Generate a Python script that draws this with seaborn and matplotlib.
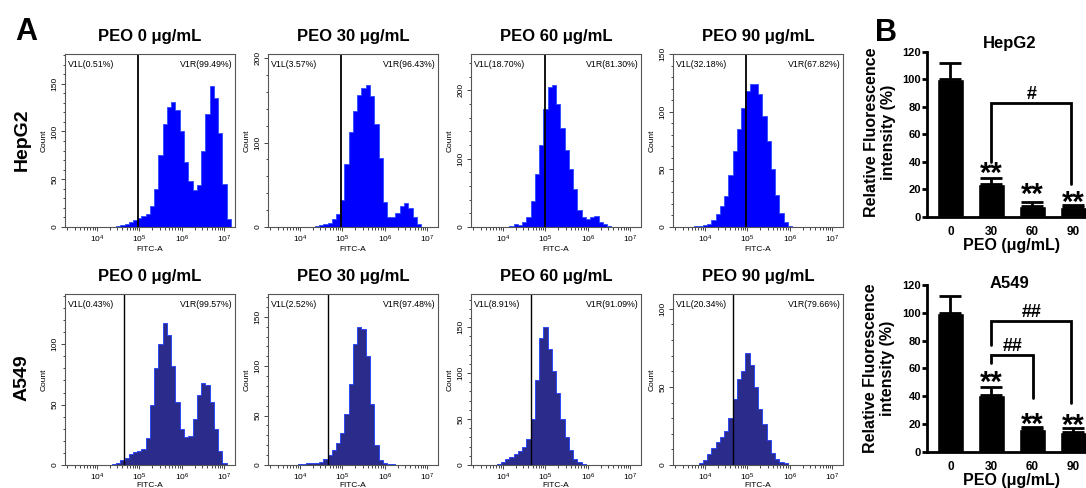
import numpy as np
import matplotlib
matplotlib.use("Agg")
import matplotlib.pyplot as plt
import seaborn as sns
from matplotlib.ticker import AutoMinorLocator, MultipleLocator, LogLocator, NullFormatter

W, H = 1086, 488

# ---- panel A : FITC-A histograms (log10 bin centres, 0.1 decade wide) ----
bin_log = [3.3, 3.4, 3.5, 3.6, 3.7, 3.8, 3.9, 4.0, 4.1, 4.2,
           4.3, 4.4, 4.5, 4.6, 4.7, 4.8, 4.9, 5.0, 5.1, 5.2,
           5.3, 5.4, 5.5, 5.6, 5.7, 5.8, 5.9, 6.0, 6.1, 6.2,
           6.3, 6.4, 6.5, 6.6, 6.7, 6.8, 6.9, 7.0, 7.1, 7.2]

hepg2_0 = [0] * 12 + [1, 2, 3, 5, 7, 9, 11, 14, 22, 40, 75, 108, 126, 131, 122, 100,
                      68, 48, 39, 44, 80, 118, 148, 135, 98, 45, 8, 0]
hepg2_30 = [0] * 11 + [1, 2, 3, 5, 9, 15, 32, 75, 112, 138, 157, 165, 168, 155, 122,
                       82, 30, 12, 12, 17, 25, 28, 23, 12, 3] + [0] * 4
hepg2_60 = [0] * 9 + [1, 5, 3, 7, 15, 38, 78, 120, 172, 205, 208, 180, 145, 112, 85,
                      55, 25, 14, 12, 14, 16, 8, 5, 2] + [0] * 7
hepg2_90 = [0] * 5 + [1, 1, 2, 3, 6, 11, 18, 27, 45, 66, 85, 103, 118, 124, 124, 115,
                      96, 75, 50, 28, 12, 4, 1] + [0] * 12
a549_0 = [0] * 11 + [1, 2, 4, 6, 9, 11, 12, 13, 22, 50, 80, 100, 118, 108, 82, 52,
                     30, 23, 24, 38, 58, 68, 66, 52, 30, 12, 2] + [0] * 2
a549_30 = [0] * 7 + [1, 1, 2, 2, 2, 3, 6, 10, 15, 22, 32, 52, 82, 122, 140, 138, 110,
                     62, 20, 5, 2, 1, 1] + [0] * 10
a549_60 = [0] * 6 + [1, 3, 6, 9, 12, 15, 20, 28, 50, 92, 138, 150, 126, 102, 78, 50,
                     30, 16, 7, 3, 1] + [0] * 13
a549_90 = [0] * 6 + [1, 3, 7, 11, 15, 18, 22, 30, 42, 55, 60, 72, 64, 50, 36, 26, 16,
                     8, 4, 2, 1] + [0] * 13

peo_titles = ["PEO 0 \u03bcg/mL", "PEO 30 \u03bcg/mL", "PEO 60 \u03bcg/mL", "PEO 90 \u03bcg/mL"]

hepg2_ymax = [181, 205, 253, 150]
hepg2_major = [50, 100, 100, 50]
hepg2_gate = [4.97, 4.96, 5.0, 4.97]
hepg2_v1l = ["V1L(0.51%)", "V1L(3.57%)", "V1L(18.70%)", "V1L(32.18%)"]
hepg2_v1r = ["V1R(99.49%)", "V1R(96.43%)", "V1R(81.30%)", "V1R(67.82%)"]

a549_ymax = [141.6, 173, 186, 109.5]
a549_major = [50, 50, 50, 50]
a549_gate = [4.64, 4.65, 4.66, 4.65]
a549_v1l = ["V1L(0.43%)", "V1L(2.52%)", "V1L(8.91%)", "V1L(20.34%)"]
a549_v1r = ["V1R(99.57%)", "V1R(97.48%)", "V1R(91.09%)", "V1R(79.66%)"]

# ---- panel B : relative fluorescence bars ----
doses = ["0", "30", "60", "90"]
hepg2_mean = [100, 23.5, 8.0, 7.3]
hepg2_err = [11.5, 5.0, 2.9, 1.0]
hepg2_star_y = [None, 34.9, 19.2, 13.4]
# (x from, x to, left leg, bar height, right leg, label)
hepg2_brackets = [(1, 2.94, 40, 82.5, 24, "#")]

a549_mean = [100, 40.8, 16.1, 14.4]
a549_err = [12, 6, 2, 2.4]
a549_star_y = [None, 53.1, 22.8, 21.9]
a549_brackets = [(1, 2.02, 63.6, 69.6, 38.4, "##"),
                 (1, 2.94, 76.8, 94.1, 34.8, "##")]

sns.set_style("ticks")
plt.rcParams["font.family"] = ["Liberation Sans", "DejaVu Sans"]
plt.rcParams["mathtext.default"] = "regular"
plt.rcParams["text.color"] = "black"
plt.rcParams["axes.labelcolor"] = "black"
plt.rcParams["xtick.color"] = "black"
plt.rcParams["ytick.color"] = "black"

fig = plt.figure(figsize=(W / 100, H / 100), dpi=100)


def px_axes(left, top, right, bottom):
    return fig.add_axes([left / W, 1 - bottom / H, (right - left) / W, (bottom - top) / H])


def fig_text(x, y, s, **kw):
    fig.text(x / W, 1 - y / H, s, **kw)


def draw_hist(ax, counts, ymax, major, gate, v1l, v1r, face, edge, gate_lw, title, xlab_pad):
    sns.histplot(x=10 ** np.array(bin_log), weights=counts, log_scale=True,
                 binwidth=0.1, binrange=(3.25, 7.25), element="step", fill=True,
                 facecolor=face, edgecolor=edge, linewidth=0.6, ax=ax)
    ax.set_xlim(10 ** 3.25, 10 ** 7.25)
    ax.set_ylim(0, ymax)
    ax.axvline(10 ** gate, color="black", lw=gate_lw)
    ax.xaxis.set_major_locator(LogLocator(base=10, numticks=10))
    ax.xaxis.set_minor_locator(LogLocator(base=10, subs=np.arange(2, 10), numticks=20))
    ax.xaxis.set_minor_formatter(NullFormatter())
    ax.yaxis.set_major_locator(MultipleLocator(major))
    ax.yaxis.set_minor_locator(AutoMinorLocator(5))
    ax.tick_params(which="both", direction="out", width=0.7, color="#444444",
                   labelcolor="black", labelsize=6, pad=1.5)
    ax.tick_params(which="major", length=3)
    ax.tick_params(which="minor", length=1.8)
    ax.tick_params(axis="y", labelrotation=90)
    for lbl in ax.get_yticklabels():
        lbl.set_va("center")
    ax.set_xlabel("FITC-A", fontsize=6, labelpad=xlab_pad)
    ax.set_ylabel("Count", fontsize=6, labelpad=3)
    for s in ax.spines.values():
        s.set_color("#555555")
        s.set_linewidth(0.8)
    ax.text(0.02, 0.965, v1l, transform=ax.transAxes, fontsize=6.3, va="top", ha="left")
    ax.text(0.985, 0.965, v1r, transform=ax.transAxes, fontsize=6.3, va="top", ha="right")
    ax.set_title(title, fontsize=12, weight="bold", pad=9)


hist_lefts = [65, 268, 471, 673]
hepg2_counts = [hepg2_0, hepg2_30, hepg2_60, hepg2_90]
a549_counts = [a549_0, a549_30, a549_60, a549_90]

for i, left in enumerate(hist_lefts):
    ax = px_axes(left, 54, left + 170, 227)
    draw_hist(ax, hepg2_counts[i], hepg2_ymax[i], hepg2_major[i], hepg2_gate[i],
              hepg2_v1l[i], hepg2_v1r[i], "#0000ff", "#2a4cff", 1.3, peo_titles[i], 1)
    ax = px_axes(left, 294, left + 170, 465)
    draw_hist(ax, a549_counts[i], a549_ymax[i], a549_major[i], a549_gate[i],
              a549_v1l[i], a549_v1r[i], "#2b2b8c", "#1a3cff", 1.0, peo_titles[i], -0.5)


def draw_bars(ax, mean, err, star_y, brackets, title, title_y):
    sns.barplot(x=doses, y=mean, color="black", saturation=1, width=0.66,
                errorbar=None, ax=ax)
    ax.errorbar(range(len(doses)), mean, yerr=[np.zeros(len(err)), err], fmt="none",
                ecolor="black", elinewidth=2, capsize=8, capthick=2)
    ax.set_xlim(-0.58, 3.305)
    ax.set_ylim(0, 120)
    ax.set_xlabel("")
    ax.set_ylabel("")
    ax.yaxis.set_major_locator(MultipleLocator(20))
    sns.despine(ax=ax)
    for side in ["left", "bottom"]:
        ax.spines[side].set_linewidth(2)
        ax.spines[side].set_color("black")
    ax.tick_params(axis="y", length=3.6, width=2, pad=0.5, labelsize=8, color="black")
    ax.tick_params(axis="x", length=0, pad=7, labelsize=8.5)
    for lbl in ax.get_xticklabels() + ax.get_yticklabels():
        lbl.set_fontweight("bold")
    for i, y in enumerate(star_y):
        if y is None:
            continue
        ax.annotate("**", xy=(i, y), xytext=(0, -9.3), textcoords="offset points",
                    ha="center", va="baseline", fontsize=21, weight="bold",
                    annotation_clip=False)
    for x0, x1, yl, yb, yr, lab in brackets:
        ax.plot([x0, x0, x1, x1], [yl, yb, yb, yr], color="black", lw=2,
                solid_joinstyle="miter", clip_on=False)
        ax.annotate(lab, xy=((x0 + x1) / 2, yb), xytext=(0, 3), textcoords="offset points",
                    ha="center", va="baseline", fontsize=13, weight="bold",
                    annotation_clip=False)
    ax.text(1.45, title_y, title, ha="center", va="baseline", fontsize=12,
            weight="bold", clip_on=False)


ax = px_axes(926.7, 51.7, 1086, 216.7)
draw_bars(ax, hepg2_mean, hepg2_err, hepg2_star_y, hepg2_brackets, "HepG2", 122.5)
ax = px_axes(926.7, 285, 1086, 451.7)
draw_bars(ax, a549_mean, a549_err, a549_star_y, a549_brackets, "A549", 117.6)

ylab = "Relative Fluorescence\nintensity (%)"
fig_text(880, 132.5, ylab, rotation=90, ha="center", va="center", ma="center",
         fontsize=11.5, weight="bold")
fig_text(879, 368, ylab, rotation=90, ha="center", va="center", ma="center",
         fontsize=11.5, weight="bold")
fig_text(1011.7, 250, "PEO (\u03bcg/mL)", ha="center", va="baseline", fontsize=11.5,
         weight="bold")
fig_text(1011.7, 485, "PEO (\u03bcg/mL)", ha="center", va="baseline", fontsize=11.5,
         weight="bold")

fig_text(15, 40, "A", fontsize=22, weight="bold", va="baseline", ha="left")
fig_text(875, 41, "B", fontsize=22, weight="bold", va="baseline", ha="left")
fig_text(22.5, 140, "HepG2", rotation=90, fontsize=14, weight="bold", ha="center", va="center")
fig_text(22.5, 378, "A549", rotation=90, fontsize=14, weight="bold", ha="center", va="center")

fig.savefig("out.png", dpi=100)
